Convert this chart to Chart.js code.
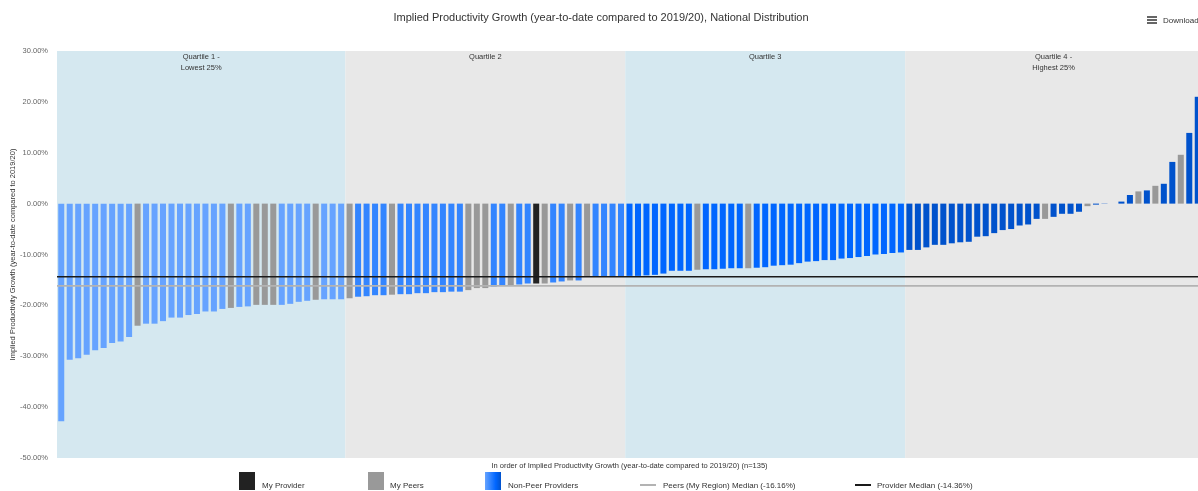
<!DOCTYPE html>
<html>
<head>
<meta charset="utf-8">
<title>Implied Productivity Growth - National Distribution</title>
<script src="https://cdn.jsdelivr.net/npm/chart.js@4.4.1/dist/chart.umd.min.js"></script>
<style>
  html, body { margin: 0; padding: 0; background: #fff; overflow: hidden; }
  body { font-family: "Liberation Sans", Arial, sans-serif; }
  #wrap { position: relative; width: 1198px; height: 491px; overflow: hidden; }
  #chart { position: absolute; left: 0; top: 0; }
  .abs { position: absolute; white-space: nowrap; }
  .txt { font-size: 8px; line-height: 10px; color: #333; }
  .burger { left: 1147px; top: 16px; width: 10px; height: 8px; }
  .burger i { position: absolute; left: 0; width: 10px; height: 1.6px; background: #666; }
</style>
</head>
<body>
<div id="wrap">
  <canvas id="chart" width="1202" height="491"></canvas>

  <div class="abs burger"><i style="top:0"></i><i style="top:3.2px"></i><i style="top:6.4px"></i></div>
  <div class="abs txt" style="left:1163px; top:16px;">Download</div>

  <div class="abs" style="left:239px; top:472px; width:16px; height:18px; background:#222;"></div>
  <div class="abs txt" style="left:262px; top:481px;">My Provider</div>
  <div class="abs" style="left:368px; top:472px; width:16px; height:18px; background:#999;"></div>
  <div class="abs txt" style="left:390px; top:481px;">My Peers</div>
  <div class="abs" style="left:485px; top:472px; width:16px; height:18px; background:linear-gradient(to right,#66a3ff,#3385ff,#0066ff,#0052cc);"></div>
  <div class="abs txt" style="left:508px; top:481px;">Non-Peer Providers</div>
  <div class="abs" style="left:640px; top:484px; width:16px; height:2px; background:#b3b3b3;"></div>
  <div class="abs txt" style="left:663px; top:481px;">Peers (My Region) Median (-16.16%)</div>
  <div class="abs" style="left:855px; top:484px; width:16px; height:2px; background:#1a1a1a;"></div>
  <div class="abs txt" style="left:877px; top:481px;">Provider Median (-14.36%)</div>
</div>

<script>
// provider growth values (%), ordered lowest to highest, n = 135
const growthValues = [
  // quartile 1
  -42.8, -30.7, -30.4, -29.7, -28.8, -28.4, -27.4, -27.1, -26.2, -24.0,
  -23.6, -23.6, -23.1, -22.4, -22.4, -21.9, -21.7, -21.2, -21.2, -20.7,
  -20.5, -20.3, -20.2, -19.9, -19.9, -19.9, -19.9, -19.7, -19.3, -19.1,
  -18.9, -18.8, -18.8, -18.8,
  // quartile 2
  -18.6, -18.3, -18.2, -18.0, -18.0, -17.9, -17.8, -17.8, -17.6, -17.6,
  -17.4, -17.4, -17.3, -17.3, -17.0, -16.6, -16.6, -16.3, -16.1, -16.1,
  -15.9, -15.7, -15.7, -15.7, -15.5, -15.3, -15.1, -15.1, -14.4, -14.3,
  -14.3, -14.3, -14.3,
  // quartile 3
  -14.2, -14.2, -14.1, -14.0, -13.75, -13.2, -13.2, -13.2, -13.0, -12.9,
  -12.9, -12.8, -12.7, -12.7, -12.7, -12.6, -12.5, -12.2, -12.1, -12.0,
  -11.7, -11.4, -11.3, -11.1, -11.1, -10.8, -10.7, -10.5, -10.3, -10.0,
  -9.9, -9.7, -9.6,
  // quartile 4
  -9.1, -9.1, -8.6, -8.1, -8.1, -7.8, -7.6, -7.5, -6.5, -6.4,
  -5.8, -5.2, -5.0, -4.3, -4.1, -3.0, -3.0, -2.6, -2.0, -2.0,
  -1.6, -0.5, -0.2, -0.05, 0, 0.4, 1.7, 2.4, 2.6, 3.5,
  3.9, 8.2, 9.6, 13.9, 21.0
];

// rank positions (1-based) of my provider and my peers
const myProviderRank = 57;
const peerRanks = [10, 21, 24, 25, 26, 31, 35, 40, 49, 50, 51, 54, 58, 61, 63, 76, 82, 117, 122, 128, 130, 133];

const peersMedian = -16.16;
const providerMedian = -14.36;

const quartileSizes = [34, 33, 33, 35];
const quartileLabels = [["Quartile 1 -", "Lowest 25%"], ["Quartile 2"], ["Quartile 3"], ["Quartile 4 -", "Highest 25%"]];
const quartileColors = ["#66a3ff", "#3385ff", "#0066ff", "#0052cc"];

const yTicks = [30, 20, 10, 0, -10, -20, -30, -40, -50];

const FONT = '"Liberation Sans", Arial, sans-serif';

const ranks = growthValues.map((v, i) => i + 1);

// colour per bar: my provider, peers, otherwise quartile shade
const barColors = [];
let q = 0, seen = 0;
ranks.forEach(r => {
  if (r > seen + quartileSizes[q]) { seen += quartileSizes[q]; q++; }
  if (r === myProviderRank) barColors.push("#222222");
  else if (peerRanks.includes(r)) barColors.push("#999999");
  else barColors.push(quartileColors[q]);
});

const quartileBands = {
  id: "quartileBands",
  beforeDatasetsDraw(chart) {
    const { ctx, chartArea, scales: { x } } = chart;
    const step = x.width / growthValues.length;
    let start = 0;
    ctx.save();
    quartileSizes.forEach((n, k) => {
      const x0 = x.getPixelForValue(start) - step / 2;
      const x1 = x.getPixelForValue(start + n - 1) + step / 2;
      ctx.fillStyle = k % 2 === 0 ? "#d5e8f0" : "#e8e8e8";
      ctx.fillRect(x0, chartArea.top, x1 - x0, chartArea.bottom - chartArea.top);
      ctx.fillStyle = "#333";
      ctx.font = "7.5px " + FONT;
      ctx.textAlign = "center";
      ctx.textBaseline = "middle";
      quartileLabels[k].forEach((line, j) => {
        ctx.fillText(line, (x0 + x1) / 2, chartArea.top + 6 + j * 11);
      });
      start += n;
    });
    ctx.restore();
  }
};

const medianLines = {
  id: "medianLines",
  afterDatasetsDraw(chart) {
    const { ctx, chartArea, scales: { y } } = chart;
    ctx.save();
    [[peersMedian, "#b3b3b3"], [providerMedian, "#1a1a1a"]].forEach(([val, col]) => {
      const py = y.getPixelForValue(val);
      ctx.strokeStyle = col;
      ctx.lineWidth = 1.6;
      ctx.beginPath();
      ctx.moveTo(chartArea.left, py);
      ctx.lineTo(chartArea.right, py);
      ctx.stroke();
    });
    ctx.restore();
  }
};

document.addEventListener("DOMContentLoaded", function () {
  const ctx = document.getElementById("chart");
  new Chart(ctx, {
    type: "bar",
    data: {
      labels: ranks,
      datasets: [{
        label: "Implied Productivity Growth",
        data: growthValues,
        backgroundColor: barColors,
        barPercentage: 0.71,
        categoryPercentage: 1
      }]
    },
    options: {
      responsive: false,
      animation: false,
      layout: { padding: { left: 0, right: 0, top: 0, bottom: 21 } },
      plugins: {
        legend: { display: false },
        tooltip: { enabled: false },
        title: {
          display: true,
          text: "Implied Productivity Growth (year-to-date compared to 2019/20), National Distribution",
          color: "#333",
          font: { family: FONT, size: 11, weight: "normal" },
          padding: { top: 11.4, bottom: 26.4 }
        }
      },
      scales: {
        x: {
          grid: { display: false, drawTicks: false },
          border: { display: false },
          ticks: { display: false },
          title: {
            display: true,
            text: "In order of Implied Productivity Growth (year-to-date compared to 2019/20) (n=135)",
            color: "#333",
            font: { family: FONT, size: 7.5 },
            padding: { top: 3, bottom: 0 }
          }
        },
        y: {
          min: -50,
          max: 30,
          afterBuildTicks: axis => { axis.ticks = yTicks.map(v => ({ value: v })); },
          afterFit: axis => { axis.width = 57; },
          grid: { display: false, drawTicks: false },
          border: { display: false },
          ticks: {
            padding: 9,
            color: "#666",
            font: { family: FONT, size: 7.5 },
            callback: v => v.toFixed(2) + "%"
          },
          title: {
            display: true,
            text: "Implied Productivity Growth (year-to-date compared to 2019/20)",
            color: "#333",
            font: { family: FONT, size: 7.5 },
            padding: { top: 8, bottom: 0 }
          }
        }
      }
    },
    plugins: [quartileBands, medianLines]
  });
});
</script>
</body>
</html>
